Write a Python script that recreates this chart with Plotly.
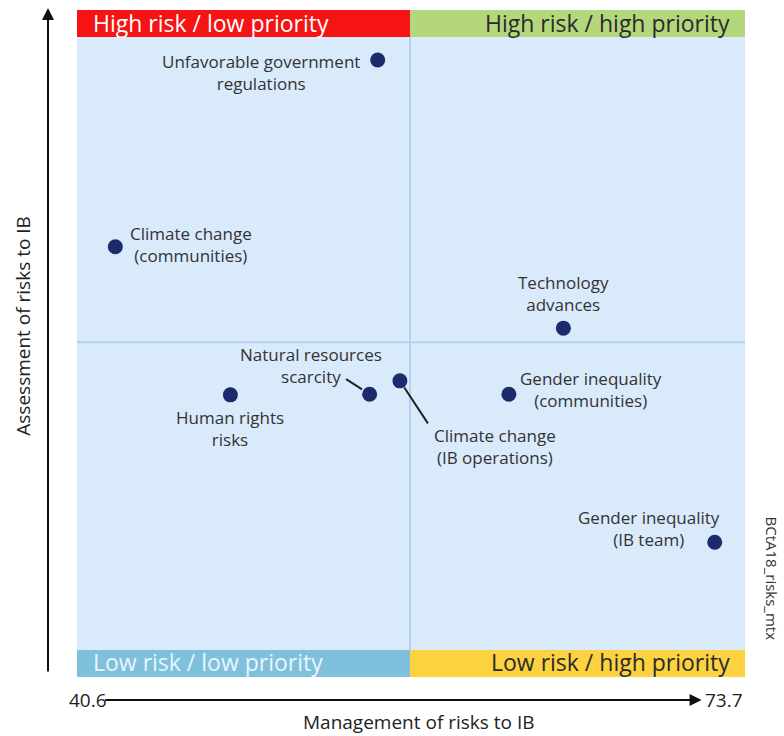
import plotly.graph_objects as go

# Risk matrix: management score (x) vs. assessment score (y)
risks = [
    "Unfavorable government<br>regulations",
    "Climate change<br>(communities)",
    "Technology<br>advances",
    "Human rights<br>risks",
    "Natural resources<br>scarcity",
    "Climate change<br>(IB operations)",
    "Gender inequality<br>(communities)",
    "Gender inequality<br>(IB team)",
]
management = [55.5, 42.5, 64.7, 48.2, 55.1, 56.6, 62.0, 72.2]
assessment = [92.5, 64.5, 52.3, 42.3, 42.4, 44.4, 42.4, 20.2]

# label placement relative to each marker (pixels) and anchors
label_dx = [-16, 13, 0, 0, -59, 95, 9, -66]
label_dy = [-12, 2, 10, -9, 29, -41, 5, 14]
label_xanchor = ["right", "left", "center", "center", "center", "center", "left", "center"]
label_yanchor = ["middle", "middle", "bottom", "top", "middle", "top", "middle", "middle"]

x_min, x_max = 40.6, 73.7
y_min, y_max = 0, 100
x_split, y_split = 57.1, 50.2
band = 4.05  # height of the top/bottom priority bands in y units

quadrants = [
    ("High risk / low priority", "top", "left", "#f51313", "#ffffff"),
    ("High risk / high priority", "top", "right", "#b4d77c", "#2b2b2b"),
    ("Low risk / low priority", "bottom", "left", "#7fc0dd", "#eaf5fb"),
    ("Low risk / high priority", "bottom", "right", "#fcd240", "#2b2b2b"),
]

FONT = "Open Sans"
fig = go.Figure()

shapes = [
    dict(type="rect", xref="x", yref="y", x0=x_min, x1=x_max, y0=y_min, y1=y_max,
         fillcolor="#d9eafb", line_width=0, layer="below"),
    dict(type="line", xref="x", yref="y", x0=x_split, x1=x_split, y0=y_min + band, y1=y_max - band,
         line=dict(color="#b3d2f3", width=2), layer="below"),
    dict(type="line", xref="x", yref="y", x0=x_min, x1=x_max, y0=y_split, y1=y_split,
         line=dict(color="#b3d2f3", width=2), layer="below"),
]
annotations = []
for text, vpos, hpos, fill, fcol in quadrants:
    x0, x1 = (x_min, x_split) if hpos == "left" else (x_split, x_max)
    y0, y1 = (y_max - band, y_max) if vpos == "top" else (y_min, y_min + band)
    shapes.append(dict(type="rect", xref="x", yref="y", x0=x0, x1=x1, y0=y0, y1=y1,
                       fillcolor=fill, line_width=0, layer="below"))
    annotations.append(dict(
        x=x0 if hpos == "left" else x1, y=(y0 + y1) / 2, xref="x", yref="y",
        text=text, showarrow=False,
        xanchor="left" if hpos == "left" else "right", yanchor="middle",
        xshift=14 if hpos == "left" else -13, yshift=1,
        font=dict(family=FONT, size=23, color=fcol)))

fig.add_trace(go.Scatter(
    x=management, y=assessment, mode="markers",
    marker=dict(size=15, color="#1b2b6b"), hoverinfo="skip", showlegend=False))

for name, xv, yv, dx, dy, xa, ya in zip(risks, management, assessment,
                                        label_dx, label_dy, label_xanchor, label_yanchor):
    annotations.append(dict(
        x=xv, y=yv, xref="x", yref="y", text=name, showarrow=False,
        xshift=dx, yshift=dy, xanchor=xa, yanchor=ya, align="center",
        font=dict(family=FONT, size=17, color="#333333")))

# leader lines from the two crowded labels to their markers
annotations.append(dict(x=management[4], y=assessment[4], xref="x", yref="y",
                        ax=-25, ay=-16, text="", showarrow=True, arrowhead=0,
                        arrowwidth=2, arrowcolor="#222222", standoff=9))
annotations.append(dict(x=management[5], y=assessment[5], xref="x", yref="y",
                        ax=29, ay=44, text="", showarrow=True, arrowhead=0,
                        arrowwidth=2, arrowcolor="#222222", standoff=8))

# axis arrows and end labels
XD, YD = "x domain", "y domain"
annotations += [
    dict(x=-0.0434, y=1.003, xref=XD, yref=YD, ax=-0.0434, ay=0.006,
         axref=XD, ayref=YD, text="", showarrow=True, arrowhead=2,
         arrowsize=1.2, arrowwidth=2, arrowcolor="#111111"),
    dict(x=0.935, y=-0.0345, xref=XD, yref=YD, ax=0.04, ay=-0.0345,
         axref=XD, ayref=YD, text="", showarrow=True, arrowhead=2,
         arrowsize=1.2, arrowwidth=2, arrowcolor="#111111"),
    dict(x=0.0, y=-0.0345, xref="paper", yref="paper", text=f"{x_min}", showarrow=False,
         xanchor="left", yanchor="middle", xshift=-10,
         font=dict(family=FONT, size=19, color="#222222")),
    dict(x=1.0, y=-0.0345, xref="paper", yref="paper", text=f"{x_max}", showarrow=False,
         xanchor="right", yanchor="middle", xshift=0,
         font=dict(family=FONT, size=19, color="#222222")),
    dict(x=0.512, y=-0.068, xref="paper", yref="paper", text="Management of risks to IB",
         showarrow=False, xanchor="center", yanchor="middle",
         font=dict(family=FONT, size=19, color="#222222")),
    dict(x=-0.08, y=0.526, xref="paper", yref="paper", text="Assessment of risks to IB",
         showarrow=False, xanchor="center", yanchor="middle", textangle=-90,
         font=dict(family=FONT, size=19, color="#222222")),
    dict(x=1.04, y=0.148, xref="paper", yref="paper", text="BCtA18_risks_mtx",
         showarrow=False, xanchor="center", yanchor="middle", textangle=90,
         font=dict(family=FONT, size=15, color="#333333")),
]

fig.update_layout(
    width=784, height=736,
    margin=dict(l=77, r=39, t=10, b=59),
    paper_bgcolor="white", plot_bgcolor="white",
    xaxis=dict(range=[x_min, x_max], visible=False, fixedrange=True),
    yaxis=dict(range=[y_min, y_max], visible=False, fixedrange=True),
    shapes=shapes, annotations=annotations,
)

fig.write_html("out.html")
